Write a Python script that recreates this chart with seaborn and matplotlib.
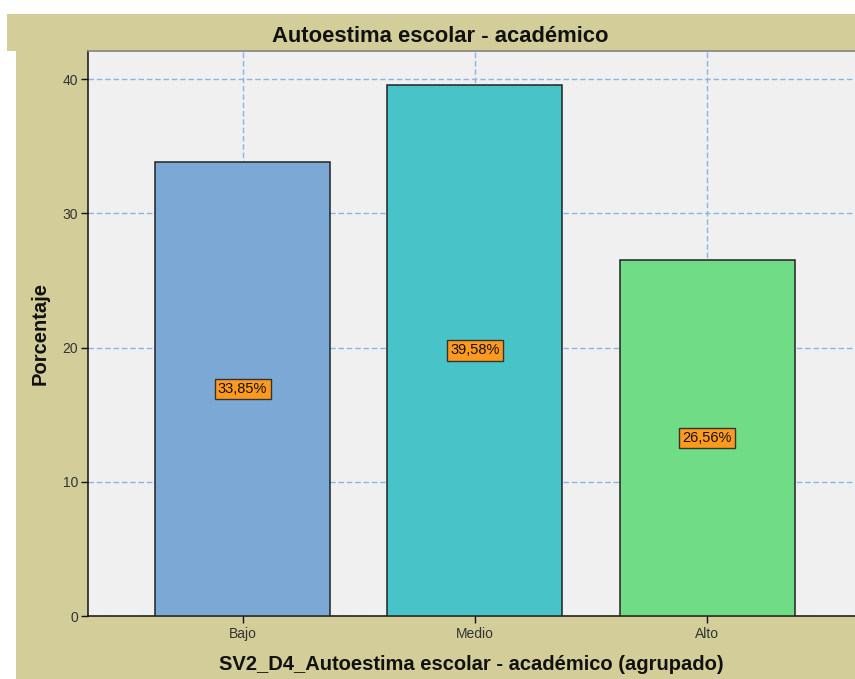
import matplotlib
matplotlib.use("Agg")
import matplotlib.pyplot as plt
import seaborn as sns
import pandas as pd
from matplotlib.patches import Rectangle

categorias = ["Bajo", "Medio", "Alto"]
porcentajes = [33.85, 39.58, 26.56]
etiquetas = ["33,85%", "39,58%", "26,56%"]
colores = ["#7BA8D5", "#48C4C8", "#70DC85"]
yticks = [0, 10, 20, 30, 40]

titulo = "Autoestima escolar - académico"
xlabel = "SV2_D4_Autoestima escolar - académico (agrupado)"
ylabel = "Porcentaje"

sns.set_style("white")
plt.rcParams["font.family"] = ["Liberation Sans", "DejaVu Sans"]

TAN = "#D3CE99"
W, H = 855, 679

fig = plt.figure(figsize=(W / 100, H / 100), dpi=100, facecolor="white")

# tan frame: title band + body
fig.patches.append(Rectangle((7 / W, 1 - 51 / H), 1, 37 / H, transform=fig.transFigure,
                             facecolor=TAN, edgecolor="none", zorder=-10))
fig.patches.append(Rectangle((16 / W, 0), 1, 1 - 51 / H, transform=fig.transFigure,
                             facecolor=TAN, edgecolor="none", zorder=-10))

left, right, top, bottom = 87.7, 855, 51.5, 616
ax = fig.add_axes([left / W, 1 - bottom / H, (right - left) / W, (bottom - top) / H])
ax.set_zorder(1)
ax.set_facecolor("#F0F0F0")

df = pd.DataFrame({"cat": categorias, "pct": porcentajes})
sns.barplot(data=df, x="cat", y="pct", hue="cat", palette=colores, order=categorias,
            saturation=1, width=0.753, edgecolor="#222222", linewidth=1.1, legend=False,
            ax=ax, zorder=3)

for i, (v, t) in enumerate(zip(porcentajes, etiquetas)):
    ax.text(i, v / 2, t, ha="center", va="center", fontsize=10.5, color="#111111", zorder=5,
            bbox=dict(boxstyle="square,pad=0.22", facecolor="#FF9A1E", edgecolor="#333333", linewidth=1))

ax.set_xlim(-0.667, 2.636)
ax.set_ylim(0, 42.07)
ax.set_yticks(yticks)
ax.grid(True, color="#8AB4E6", linestyle=(0, (4, 2)), linewidth=1.0, zorder=0)
ax.set_axisbelow(True)

for s in ["top", "right"]:
    ax.spines[s].set_visible(False)
for s in ["left", "bottom"]:
    ax.spines[s].set_color("#111111")
    ax.spines[s].set_linewidth(1.1)
ax.axhline(42.07, color="#888888", linewidth=1.2, zorder=6, clip_on=False)

ax.tick_params(axis="both", which="both", length=5, width=1, color="#111111",
               labelsize=10, labelcolor="#333333", direction="out", left=True, bottom=True)
ax.tick_params(axis="y", pad=2)
ax.tick_params(axis="x", pad=3)

ax.set_xlabel(xlabel, fontsize=14.5, fontweight="bold", color="#111111", labelpad=10)
ax.set_ylabel(ylabel, fontsize=14.5, fontweight="bold", color="#111111", labelpad=9)

fig.text(440 / W, 1 - 36 / H, titulo, ha="center", va="center", fontsize=15.8,
         fontweight="bold", color="#111111")

fig.savefig("out.png", dpi=100, facecolor="white")
